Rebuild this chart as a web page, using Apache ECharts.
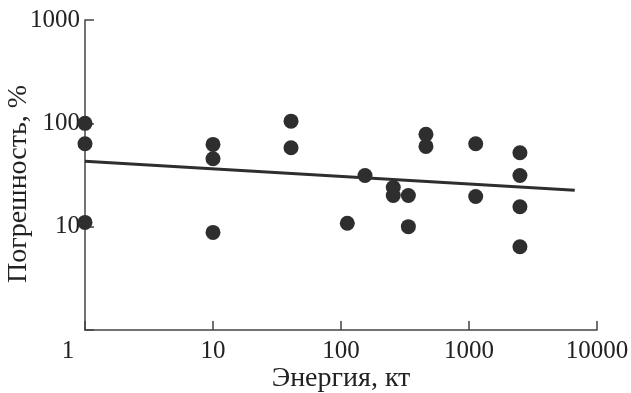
<!DOCTYPE html>
<html><head><meta charset="utf-8">
<script src="https://cdn.jsdelivr.net/npm/echarts@6/dist/echarts.min.js"></script>
<style>html,body{margin:0;padding:0;background:#fff}#c{width:631px;height:393px}</style>
</head><body><div id="c"></div>
<script>
var energy = [1, 1, 1, 10, 10, 10, 40.7, 40.7, 112, 154, 256, 256, 336, 336, 461, 461, 1128, 1128, 2500, 2500, 2500, 2500];
var error  = [100, 63.5, 11, 62.5, 45.4, 8.8, 105, 58, 10.8, 31.3, 23.9, 20.0, 20, 10, 78.2, 59.8, 63.5, 19.6, 51.9, 31.3, 15.6, 6.4];
var fitX = [1, 6700];
var fitY = [43, 22.5];
var xTicks = [1, 10, 100, 1000, 10000];
var yTicks = [10, 100, 1000];
var xTitle = 'Энергия, кт';
var yTitle = 'Погрешность, %';

var pts = energy.map(function (e, i) { return [e, error[i]]; });
var fit = fitX.map(function (x, i) { return [x, fitY[i]]; });
var font = '"Liberation Serif", "Times New Roman", serif';
var col = '#2e2e2e';
function near(v, arr) { for (var i = 0; i < arr.length; i++) { if (Math.abs(v - arr[i]) / arr[i] < 1e-6) return arr[i]; } return null; }

var chart = echarts.init(document.getElementById('c'));
chart.setOption({
  animation: false,
  grid: { left: 85, right: 34, top: 20, bottom: 63, containLabel: false, outerBoundsMode: 'none' },
  xAxis: {
    type: 'log', logBase: 10, min: 1, max: 10000,
    name: xTitle, nameLocation: 'middle', nameGap: 35, nameMoveOverlap: false,
    nameTextStyle: { fontFamily: font, fontSize: 28, color: '#222' },
    axisLine: { lineStyle: { color: '#444', width: 1.5 } },
    axisTick: { inside: true, length: 9, lineStyle: { color: '#444', width: 1.5 } },
    minorTick: { show: false },
    splitLine: { show: false },
    axisLabel: {
      fontFamily: font, fontSize: 25, color: '#222', margin: 9,
      formatter: function (v) { var t = near(v, xTicks); if (t === null) return ''; return t === 1 ? '{off|1}' : String(t); },
      rich: { off: { fontFamily: font, fontSize: 25, color: '#222', padding: [0, 34, 0, 0] } }
    }
  },
  yAxis: {
    type: 'log', logBase: 10, min: 1, max: 1000,
    name: yTitle, nameLocation: 'middle', nameGap: 52, nameMoveOverlap: false,
    nameTextStyle: { fontFamily: font, fontSize: 28, color: '#222', padding: [0, 18, 0, 0] },
    axisLine: { lineStyle: { color: '#444', width: 1.5 } },
    axisTick: { inside: true, length: 9, lineStyle: { color: '#444', width: 1.5 } },
    splitLine: { show: false },
    axisLabel: {
      fontFamily: font, fontSize: 25, color: '#222', margin: 5,
      formatter: function (v) { var t = near(v, yTicks); return t === null ? '' : String(t); }
    }
  },
  series: [
    { type: 'line', data: fit, symbol: 'none', lineStyle: { color: col, width: 3 }, z: 2 },
    { type: 'scatter', data: pts, symbolSize: 15, itemStyle: { color: col, opacity: 1 }, z: 3 }
  ]
});
</script></body></html>
